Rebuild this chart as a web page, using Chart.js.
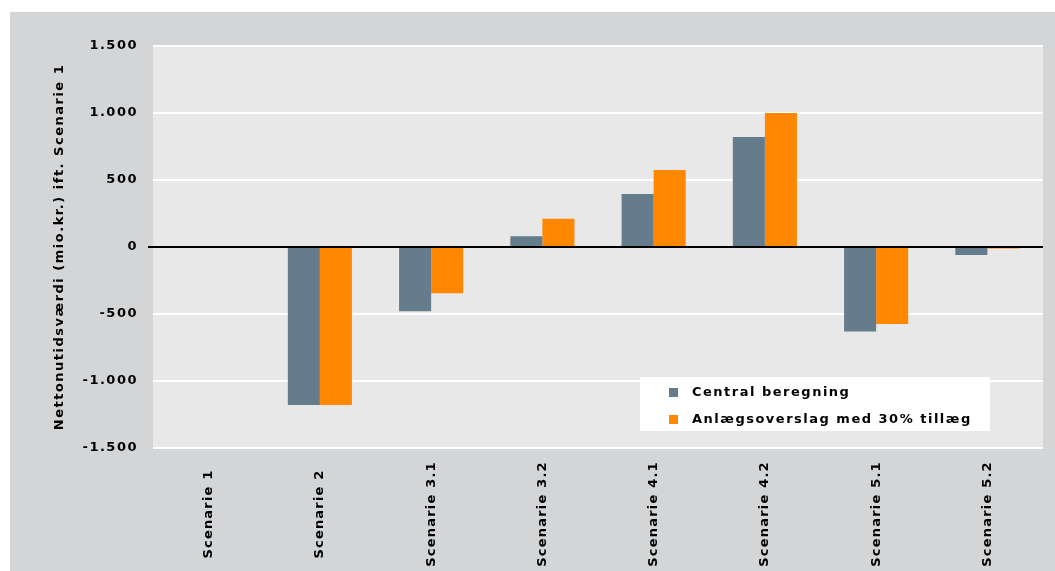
<!DOCTYPE html>
<html>
<head>
<meta charset="utf-8">
<script src="https://cdn.jsdelivr.net/npm/chart.js@4.4.0/dist/chart.umd.min.js"></script>
<style>
  body { margin: 0; background: #ffffff; }
  #wrap { position: relative; width: 1055px; height: 571px; }
</style>
</head>
<body>
<div id="wrap"><canvas id="chart"></canvas></div>
<script>
const categories = ["Scenarie 1", "Scenarie 2", "Scenarie 3.1", "Scenarie 3.2", "Scenarie 4.1", "Scenarie 4.2", "Scenarie 5.1", "Scenarie 5.2"];
const centralValues = [0, -1180, -480, 80, 395, 820, -630, -60];
const tillaegValues = [0, -1180, -345, 210, 575, 1000, -575, -12];
const seriesNames = ["Central beregning", "Anlægsoverslag med 30% tillæg"];
const seriesColors = ["#647c8c", "#ff8800"];

const FONT = "'DejaVu Sans', Verdana, sans-serif";

// grey frame + light plot area
const backgroundPlugin = {
  id: "bg",
  beforeDraw(chart) {
    const ctx = chart.ctx;
    const a = chart.chartArea;
    ctx.save();
    ctx.fillStyle = "#d4d5d7";
    ctx.fillRect(10, 12, chart.width - 10, chart.height - 12);
    ctx.fillStyle = "#e8e8e8";
    ctx.fillRect(a.left, a.top, a.right - a.left, a.bottom - a.top);
    ctx.restore();
    ctx.letterSpacing = "1.5px";
  }
};

// category labels, vertical and centred in the band under the plot (Excel style)
const xLabelsPlugin = {
  id: "xLabels",
  afterDraw(chart) {
    const ctx = chart.ctx;
    const xs = chart.scales.x;
    ctx.save();
    ctx.font = "bold 13px " + FONT;
    ctx.letterSpacing = "1.2px";
    ctx.fillStyle = "#000000";
    ctx.textAlign = "center";
    ctx.textBaseline = "middle";
    chart.data.labels.forEach((lbl, i) => {
      ctx.save();
      ctx.translate(xs.getPixelForTick(i), 514);
      ctx.rotate(-Math.PI / 2);
      ctx.fillText(lbl, 0, 0);
      ctx.restore();
    });
    ctx.restore();
  }
};

// legend box drawn inside plot area
const legendBoxPlugin = {
  id: "legendBox",
  afterDraw(chart) {
    const ctx = chart.ctx;
    ctx.save();
    ctx.fillStyle = "#ffffff";
    ctx.fillRect(640, 377, 350, 54);
    ctx.font = "bold 13px " + FONT;
    ctx.letterSpacing = "1.5px";
    ctx.textBaseline = "middle";
    ctx.textAlign = "left";
    const rows = [392, 419];
    chart.data.datasets.forEach((ds, i) => {
      ctx.fillStyle = ds.backgroundColor;
      ctx.fillRect(669, rows[i] - 4, 9, 9);
      ctx.fillStyle = "#000000";
      ctx.fillText(ds.label, 692, rows[i] + 1);
    });
    ctx.restore();
  }
};

new Chart(document.getElementById("chart"), {
  type: "bar",
  data: {
    labels: categories,
    datasets: [
      { label: seriesNames[0], data: centralValues, backgroundColor: seriesColors[0] },
      { label: seriesNames[1], data: tillaegValues, backgroundColor: seriesColors[1] }
    ]
  },
  options: {
    responsive: true,
    maintainAspectRatio: false,
    animation: false,
    layout: { padding: { left: 10, top: 46, right: 12, bottom: 0 } },
    datasets: { bar: { categoryPercentage: 0.576, barPercentage: 1 } },
    plugins: {
      legend: { display: false },
      tooltip: { enabled: false }
    },
    scales: {
      x: {
        grid: { display: false, drawTicks: false },
        border: { display: false },
        ticks: { display: false, autoSkip: false },
        afterFit(scale) { scale.height = 123; }
      },
      y: {
        min: -1500,
        max: 1500,
        border: { display: false },
        grid: {
          color: (c) => (c.tick && c.tick.value === 0 ? "#000000" : "#ffffff"),
          lineWidth: 2,
          drawTicks: true,
          tickLength: 5,
          tickColor: (c) => (c.tick && c.tick.value === 0 ? "#000000" : "rgba(0,0,0,0)")
        },
        ticks: {
          stepSize: 500,
          color: "#000000",
          padding: 10,
          font: { family: FONT, size: 13, weight: "bold" },
          callback: (v) => v.toLocaleString("da-DK")
        },
        title: {
          display: true,
          text: "Nettonutidsværdi (mio.kr.) ift. Scenarie 1",
          color: "#000000",
          font: { family: FONT, size: 13, weight: "bold" },
          padding: { top: 42, bottom: 0 }
        },
        afterFit(scale) { scale.width = 143; }
      }
    }
  },
  plugins: [backgroundPlugin, xLabelsPlugin, legendBoxPlugin]
});
</script>
</body>
</html>
